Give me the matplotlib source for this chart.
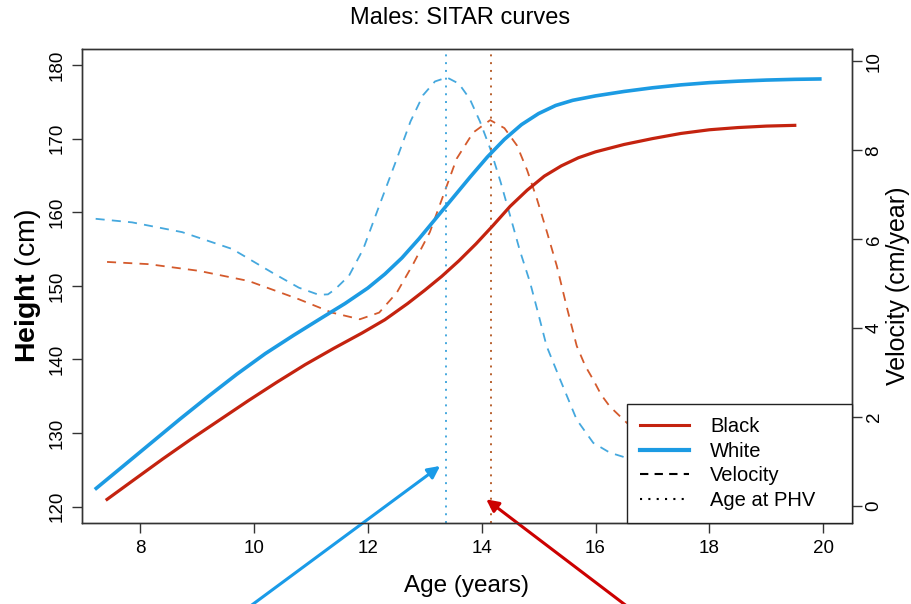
import matplotlib
matplotlib.use("Agg")
import matplotlib.pyplot as plt
from matplotlib.lines import Line2D

plt.rcParams['font.family'] = ['Liberation Sans', 'DejaVu Sans']
plt.rcParams['mathtext.fontset'] = 'custom'
plt.rcParams['mathtext.rm'] = 'Liberation Sans'
plt.rcParams['mathtext.bf'] = 'Liberation Sans:bold'

# Height curves (cm)
age_white = [7.23, 7.7, 8.2, 8.7, 9.2, 9.7, 10.2, 10.7, 11.2, 11.6, 12.0, 12.3,
             12.6, 12.9, 13.2, 13.5, 13.8, 14.1, 14.4, 14.7, 15.0, 15.3, 15.6,
             16.0, 16.5, 17.0, 17.5, 18.0, 18.5, 19.0, 19.5, 19.94]
height_white = [122.5, 125.5, 128.7, 131.9, 135.0, 138.0, 140.8, 143.3, 145.7,
                147.6, 149.7, 151.6, 153.8, 156.4, 159.2, 162.0, 164.8, 167.5,
                169.9, 171.9, 173.4, 174.5, 175.2, 175.8, 176.4, 176.9, 177.3,
                177.6, 177.8, 177.95, 178.05, 178.1]

age_black = [7.42, 7.9, 8.4, 8.9, 9.4, 9.9, 10.4, 10.9, 11.4, 11.9, 12.3, 12.7,
             13.0, 13.3, 13.6, 13.9, 14.2, 14.5, 14.8, 15.1, 15.4, 15.7, 16.0,
             16.5, 17.0, 17.5, 18.0, 18.5, 19.0, 19.5]
height_black = [121.0, 123.7, 126.5, 129.2, 131.8, 134.4, 136.9, 139.3, 141.5,
                143.6, 145.4, 147.6, 149.4, 151.3, 153.4, 155.7, 158.2, 160.8,
                163.0, 164.9, 166.3, 167.4, 168.2, 169.2, 170.0, 170.7, 171.2,
                171.5, 171.7, 171.8]

# Velocity curves (cm/year)
vage_white = [7.22, 7.86, 8.74, 9.62, 10.32, 10.79, 11.14, 11.3, 11.43, 11.67,
              11.92, 12.2, 12.51, 12.75, 12.97, 13.18, 13.39, 13.6, 13.79, 13.97,
              14.15, 14.33, 14.5, 14.67, 14.85, 15.0, 15.14, 15.38, 15.67, 15.96,
              16.25, 16.55, 17.0]
vel_white = [6.46, 6.38, 6.16, 5.78, 5.25, 4.91, 4.75, 4.76, 4.88, 5.18,
             5.78, 6.75, 7.81, 8.65, 9.24, 9.55, 9.64, 9.50, 9.16, 8.65,
             8.04, 7.30, 6.53, 5.75, 5.03, 4.30, 3.60, 2.84, 1.94, 1.42,
             1.20, 1.08, 0.85]

vage_black = [7.42, 8.15, 9.03, 9.91, 10.79, 11.37, 11.86, 12.2, 12.51, 12.8,
              13.09, 13.33, 13.56, 13.85, 14.15, 14.4, 14.62, 14.8, 14.97, 15.15,
              15.32, 15.5, 15.67, 15.82, 15.96, 16.1, 16.25, 16.55, 16.77, 17.2]
vel_black = [5.49, 5.44, 5.29, 5.06, 4.65, 4.35, 4.20, 4.35, 4.80, 5.45,
             6.16, 7.00, 7.81, 8.40, 8.68, 8.50, 8.11, 7.55, 6.91, 6.15,
             5.40, 4.45, 3.60, 3.15, 2.84, 2.50, 2.24, 1.87, 1.67, 1.30]

# age at peak height velocity
phv_white = 13.37
phv_black = 14.16

red = '#c4230f'
blue = '#1c9be3'
red_v = '#d45a2c'
blue_v = '#45a8de'

fig = plt.figure(figsize=(9.11, 6.04), dpi=100)
ax = fig.add_axes([82 / 911, 1 - 523.3 / 604, 769.7 / 911, 474.3 / 604])
ax2 = ax.twinx()

ax2.plot(vage_white, vel_white, color=blue_v, lw=1.3, ls=(0, (5, 4)))
ax2.plot(vage_black, vel_black, color=red_v, lw=1.3, ls=(0, (5, 4)))
ax2.axvline(phv_white, color=blue_v, lw=1.4, ls=(0, (1, 3)))
ax2.axvline(phv_black, color='#b8602e', lw=1.4, ls=(0, (1, 3)))

ax.set_zorder(ax2.get_zorder() + 1)
ax.patch.set_visible(False)
ax.plot(age_white, height_white, color=blue, lw=2.6, solid_joinstyle='round')
ax.plot(age_black, height_black, color=red, lw=2.3, solid_joinstyle='round')

ax.set_xlim(6.98, 20.5)
ax.set_ylim(117.75, 182.17)
ax2.set_ylim(-0.39, 10.28)

ax.set_xticks(range(8, 21, 2))
ax.set_yticks(range(120, 181, 10))
ax2.set_yticks(range(0, 11, 2))
ax.tick_params(axis='y', labelrotation=90)
ax2.tick_params(axis='y', labelrotation=90)
for a in (ax, ax2):
    a.tick_params(labelsize=13.5, length=7, width=1, color='#333333', pad=5)
    for s in a.spines.values():
        s.set_color('#333333')
        s.set_linewidth(1)
ax2.tick_params(axis='y', pad=3)
for lab in ax.get_yticklabels() + ax2.get_yticklabels():
    lab.set_va('center')

ax.set_xlabel('Age (years)', fontsize=17.5, labelpad=13)
ax.set_ylabel(r'$\mathbf{Height}$ (cm)', fontsize=20.5)
ax.yaxis.set_label_coords(-0.051, 0.5)
ax2.set_ylabel('Velocity (cm/year)', fontsize=18)
ax2.yaxis.set_label_coords(1.045, 0.5)
fig.text(460 / 911, 1 - 18 / 604, 'Males: SITAR curves', fontsize=17,
         ha='center', va='center')

handles = [Line2D([], [], color=red, lw=2.2),
           Line2D([], [], color=blue, lw=3),
           Line2D([], [], color='black', lw=1.5, ls=(0, (4, 3))),
           Line2D([], [], color='black', lw=1.5, ls=(0, (1, 3)))]
leg = ax.legend(handles, ['Black', 'White', 'Velocity', 'Age at PHV'],
                loc='lower left', bbox_to_anchor=(0.7077, 0, 0.2923, 0.3),
                mode='expand', borderaxespad=0, fontsize=14.5, frameon=True,
                fancybox=False, framealpha=1, edgecolor='#222222',
                handlelength=2.4, handletextpad=1.05, labelspacing=0.27,
                borderpad=0.68)
leg.get_frame().set_linewidth(1)

# arrows pointing at the two PHV lines
ax2.annotate('', xy=(phv_white - 0.1, 0.9), xycoords='data',
             xytext=(245 / 911, -0.01), textcoords='figure fraction',
             arrowprops=dict(arrowstyle='-|>', color='#1a9be8', lw=2.2,
                             mutation_scale=18, shrinkA=0, shrinkB=0),
             annotation_clip=False)
ax2.annotate('', xy=(phv_black - 0.08, 0.15), xycoords='data',
             xytext=(632 / 911, -0.01), textcoords='figure fraction',
             arrowprops=dict(arrowstyle='-|>', color='#cc0000', lw=2.2,
                             mutation_scale=18, shrinkA=0, shrinkB=0),
             annotation_clip=False)

fig.savefig('out.png', dpi=100)
